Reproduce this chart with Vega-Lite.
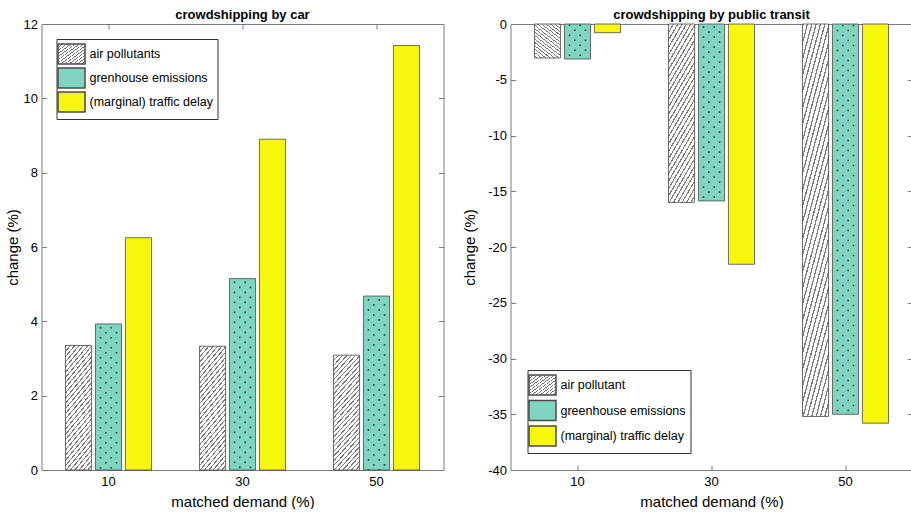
{
  "$schema": "https://vega.github.io/schema/vega-lite/v6.json",
  "background": "white",
  "padding": {"left": 4.5, "top": 9, "right": 0, "bottom": 0},
  "params": [
    {"name": "hatch", "value": {"gradient": "linear", "x1": 0, "y1": 0, "x2": 0.294, "y2": 1.176, "stops": [
{"offset":0,"color":"#7d7d7d"},{"offset":0.01,"color":"#7d7d7d"},{"offset":0.01,"color":"#fff"},{"offset":0.0333,"color":"#fff"},
{"offset":0.0333,"color":"#7d7d7d"},{"offset":0.0433,"color":"#7d7d7d"},{"offset":0.0433,"color":"#fff"},{"offset":0.0667,"color":"#fff"},
{"offset":0.0667,"color":"#7d7d7d"},{"offset":0.0767,"color":"#7d7d7d"},{"offset":0.0767,"color":"#fff"},{"offset":0.1,"color":"#fff"},
{"offset":0.1,"color":"#7d7d7d"},{"offset":0.11,"color":"#7d7d7d"},{"offset":0.11,"color":"#fff"},{"offset":0.1333,"color":"#fff"},
{"offset":0.1333,"color":"#7d7d7d"},{"offset":0.1433,"color":"#7d7d7d"},{"offset":0.1433,"color":"#fff"},{"offset":0.1667,"color":"#fff"},
{"offset":0.1667,"color":"#7d7d7d"},{"offset":0.1767,"color":"#7d7d7d"},{"offset":0.1767,"color":"#fff"},{"offset":0.2,"color":"#fff"},
{"offset":0.2,"color":"#7d7d7d"},{"offset":0.21,"color":"#7d7d7d"},{"offset":0.21,"color":"#fff"},{"offset":0.2333,"color":"#fff"},
{"offset":0.2333,"color":"#7d7d7d"},{"offset":0.2433,"color":"#7d7d7d"},{"offset":0.2433,"color":"#fff"},{"offset":0.2667,"color":"#fff"},
{"offset":0.2667,"color":"#7d7d7d"},{"offset":0.2767,"color":"#7d7d7d"},{"offset":0.2767,"color":"#fff"},{"offset":0.3,"color":"#fff"},
{"offset":0.3,"color":"#7d7d7d"},{"offset":0.31,"color":"#7d7d7d"},{"offset":0.31,"color":"#fff"},{"offset":0.3333,"color":"#fff"},
{"offset":0.3333,"color":"#7d7d7d"},{"offset":0.3433,"color":"#7d7d7d"},{"offset":0.3433,"color":"#fff"},{"offset":0.3667,"color":"#fff"},
{"offset":0.3667,"color":"#7d7d7d"},{"offset":0.3767,"color":"#7d7d7d"},{"offset":0.3767,"color":"#fff"},{"offset":0.4,"color":"#fff"},
{"offset":0.4,"color":"#7d7d7d"},{"offset":0.41,"color":"#7d7d7d"},{"offset":0.41,"color":"#fff"},{"offset":0.4333,"color":"#fff"},
{"offset":0.4333,"color":"#7d7d7d"},{"offset":0.4433,"color":"#7d7d7d"},{"offset":0.4433,"color":"#fff"},{"offset":0.4667,"color":"#fff"},
{"offset":0.4667,"color":"#7d7d7d"},{"offset":0.4767,"color":"#7d7d7d"},{"offset":0.4767,"color":"#fff"},{"offset":0.5,"color":"#fff"},
{"offset":0.5,"color":"#7d7d7d"},{"offset":0.51,"color":"#7d7d7d"},{"offset":0.51,"color":"#fff"},{"offset":0.5333,"color":"#fff"},
{"offset":0.5333,"color":"#7d7d7d"},{"offset":0.5433,"color":"#7d7d7d"},{"offset":0.5433,"color":"#fff"},{"offset":0.5667,"color":"#fff"},
{"offset":0.5667,"color":"#7d7d7d"},{"offset":0.5767,"color":"#7d7d7d"},{"offset":0.5767,"color":"#fff"},{"offset":0.6,"color":"#fff"},
{"offset":0.6,"color":"#7d7d7d"},{"offset":0.61,"color":"#7d7d7d"},{"offset":0.61,"color":"#fff"},{"offset":0.6333,"color":"#fff"},
{"offset":0.6333,"color":"#7d7d7d"},{"offset":0.6433,"color":"#7d7d7d"},{"offset":0.6433,"color":"#fff"},{"offset":0.6667,"color":"#fff"},
{"offset":0.6667,"color":"#7d7d7d"},{"offset":0.6767,"color":"#7d7d7d"},{"offset":0.6767,"color":"#fff"},{"offset":0.7,"color":"#fff"},
{"offset":0.7,"color":"#7d7d7d"},{"offset":0.71,"color":"#7d7d7d"},{"offset":0.71,"color":"#fff"},{"offset":0.7333,"color":"#fff"},
{"offset":0.7333,"color":"#7d7d7d"},{"offset":0.7433,"color":"#7d7d7d"},{"offset":0.7433,"color":"#fff"},{"offset":0.7667,"color":"#fff"},
{"offset":0.7667,"color":"#7d7d7d"},{"offset":0.7767,"color":"#7d7d7d"},{"offset":0.7767,"color":"#fff"},{"offset":0.8,"color":"#fff"},
{"offset":0.8,"color":"#7d7d7d"},{"offset":0.81,"color":"#7d7d7d"},{"offset":0.81,"color":"#fff"},{"offset":0.8333,"color":"#fff"},
{"offset":0.8333,"color":"#7d7d7d"},{"offset":0.8433,"color":"#7d7d7d"},{"offset":0.8433,"color":"#fff"},{"offset":0.8667,"color":"#fff"},
{"offset":0.8667,"color":"#7d7d7d"},{"offset":0.8767,"color":"#7d7d7d"},{"offset":0.8767,"color":"#fff"},{"offset":0.9,"color":"#fff"},
{"offset":0.9,"color":"#7d7d7d"},{"offset":0.91,"color":"#7d7d7d"},{"offset":0.91,"color":"#fff"},{"offset":0.9333,"color":"#fff"},
{"offset":0.9333,"color":"#7d7d7d"},{"offset":0.9433,"color":"#7d7d7d"},{"offset":0.9433,"color":"#fff"},{"offset":0.9667,"color":"#fff"},
{"offset":0.9667,"color":"#7d7d7d"},{"offset":0.9767,"color":"#7d7d7d"},{"offset":0.9767,"color":"#fff"},{"offset":1,"color":"#fff"}]}},
    {"name": "hatchL", "value": {"gradient": "linear", "x1": 0, "y1": 0, "x2": 1, "y2": 1, "stops": [
{"offset":0,"color":"#6f6f6f"},{"offset":0.022,"color":"#6f6f6f"},{"offset":0.022,"color":"#fff"},{"offset":0.0769,"color":"#fff"},
{"offset":0.0769,"color":"#6f6f6f"},{"offset":0.0989,"color":"#6f6f6f"},{"offset":0.0989,"color":"#fff"},{"offset":0.1538,"color":"#fff"},
{"offset":0.1538,"color":"#6f6f6f"},{"offset":0.1758,"color":"#6f6f6f"},{"offset":0.1758,"color":"#fff"},{"offset":0.2308,"color":"#fff"},
{"offset":0.2308,"color":"#6f6f6f"},{"offset":0.2528,"color":"#6f6f6f"},{"offset":0.2528,"color":"#fff"},{"offset":0.3077,"color":"#fff"},
{"offset":0.3077,"color":"#6f6f6f"},{"offset":0.3297,"color":"#6f6f6f"},{"offset":0.3297,"color":"#fff"},{"offset":0.3846,"color":"#fff"},
{"offset":0.3846,"color":"#6f6f6f"},{"offset":0.4066,"color":"#6f6f6f"},{"offset":0.4066,"color":"#fff"},{"offset":0.4615,"color":"#fff"},
{"offset":0.4615,"color":"#6f6f6f"},{"offset":0.4835,"color":"#6f6f6f"},{"offset":0.4835,"color":"#fff"},{"offset":0.5385,"color":"#fff"},
{"offset":0.5385,"color":"#6f6f6f"},{"offset":0.5605,"color":"#6f6f6f"},{"offset":0.5605,"color":"#fff"},{"offset":0.6154,"color":"#fff"},
{"offset":0.6154,"color":"#6f6f6f"},{"offset":0.6374,"color":"#6f6f6f"},{"offset":0.6374,"color":"#fff"},{"offset":0.6923,"color":"#fff"},
{"offset":0.6923,"color":"#6f6f6f"},{"offset":0.7143,"color":"#6f6f6f"},{"offset":0.7143,"color":"#fff"},{"offset":0.7692,"color":"#fff"},
{"offset":0.7692,"color":"#6f6f6f"},{"offset":0.7912,"color":"#6f6f6f"},{"offset":0.7912,"color":"#fff"},{"offset":0.8462,"color":"#fff"},
{"offset":0.8462,"color":"#6f6f6f"},{"offset":0.8682,"color":"#6f6f6f"},{"offset":0.8682,"color":"#fff"},{"offset":0.9231,"color":"#fff"},
{"offset":0.9231,"color":"#6f6f6f"},{"offset":0.9451,"color":"#6f6f6f"},{"offset":0.9451,"color":"#fff"},{"offset":1,"color":"#fff"}]}}
  ],
  "config": {
    "font": "Liberation Sans",
    "view": {"stroke": null},
    "axis": {"domainColor": "#7a7a7a", "tickColor": "#7a7a7a", "tickSize": -5, "labelPadding": 9, "labelFontSize": 13, "labelColor": "black", "labelFont": "Liberation Sans", "titleFontSize": 15, "titleFontWeight": "normal", "titleColor": "black", "titleFont": "Liberation Sans", "grid": false, "labelExpr": "'' + datum.value"},
    "axisX": {"labelPadding": 10, "titlePadding": 6},
    "axisY": {"titlePadding": 3},
    "title": {"fontSize": 13, "fontWeight": "bold", "font": "Liberation Sans", "offset": -4, "anchor": "middle", "color": "black"},
    "legend": {"symbolType": "M-1.35,-1H1.35V1H-1.35Z", "symbolSize": 400, "labelFontSize": 12.5, "labelFont": "Liberation Sans", "labelColor": "black", "padding": 4, "rowPadding": -3, "strokeColor": "#333333", "fillColor": "white", "labelOffset": 7, "offset": 15}
  },
  "spacing": 18,
  "resolve": {"scale": {"xOffset": "independent", "fill": "independent"}, "legend": {"fill": "independent"}},
  "hconcat": [
    {
      "width": 402,
      "height": 446,
      "title": "crowdshipping by car",
      "data": {"values": [
        {"demand": "10", "series": "air pollutants", "value": 3.35},
        {"demand": "10", "series": "grenhouse emissions", "value": 3.93},
        {"demand": "10", "series": "(marginal) traffic delay", "value": 6.25},
        {"demand": "30", "series": "air pollutants", "value": 3.33},
        {"demand": "30", "series": "grenhouse emissions", "value": 5.15},
        {"demand": "30", "series": "(marginal) traffic delay", "value": 8.9},
        {"demand": "50", "series": "air pollutants", "value": 3.09},
        {"demand": "50", "series": "grenhouse emissions", "value": 4.68},
        {"demand": "50", "series": "(marginal) traffic delay", "value": 11.42}
      ]},
      "layer": [
        {
          "mark": {"type": "bar", "stroke": "#4a4a4a", "strokeWidth": 0.8},
          "encoding": {
            "x": {"field": "demand", "type": "ordinal", "scale": {"paddingInner": 0, "paddingOuter": 0}, "axis": {"title": "matched demand (%)", "labelAngle": 0, "orient": "bottom"}},
            "xOffset": {"field": "series", "type": "nominal", "scale": {"domain": ["air pollutants", "grenhouse emissions", "(marginal) traffic delay"], "paddingInner": 0.13, "paddingOuter": 0.8}},
            "y": {"field": "value", "type": "quantitative", "scale": {"domain": [0, 12], "nice": false}, "axis": {"title": "change (%)", "values": [0, 2, 4, 6, 8, 10, 12], "orient": "left"}},
            "fill": {
              "field": "series", "type": "nominal",
              "scale": {"domain": ["air pollutants", "grenhouse emissions", "(marginal) traffic delay"], "range": [{"expr": "hatchL"}, "#80d5c0", "#f7f70c"]},
              "condition": {"test": "datum.series === 'air pollutants'", "value": {"expr": "hatch"}},
              "legend": {"title": null, "orient": "top-left", "encode": {"symbols": {"update": {"stroke": {"value": "#333333"}, "strokeWidth": {"value": 1}}}}}
            }
          }
        },
        {"transform": [{"filter": "datum.series === 'grenhouse emissions'"}], "mark": {"type": "rule", "color": "#1f433c", "strokeWidth": 1.6, "strokeDash": [1.6, 8.4], "strokeDashOffset": 7},
         "encoding": {"x": {"field": "demand", "type": "ordinal", "bandPosition": 0.4403, "axis": null}, "y": {"field": "value", "type": "quantitative", "axis": null}, "y2": {"datum": 0}}},
        {"transform": [{"filter": "datum.series === 'grenhouse emissions'"}], "mark": {"type": "rule", "color": "#1f433c", "strokeWidth": 1.6, "strokeDash": [1.6, 8.4], "strokeDashOffset": 2},
         "encoding": {"x": {"field": "demand", "type": "ordinal", "bandPosition": 0.4799, "axis": null}, "y": {"field": "value", "type": "quantitative", "axis": null}, "y2": {"datum": 0}}},
        {"transform": [{"filter": "datum.series === 'grenhouse emissions'"}], "mark": {"type": "rule", "color": "#1f433c", "strokeWidth": 1.6, "strokeDash": [1.6, 8.4], "strokeDashOffset": 7},
         "encoding": {"x": {"field": "demand", "type": "ordinal", "bandPosition": 0.5201, "axis": null}, "y": {"field": "value", "type": "quantitative", "axis": null}, "y2": {"datum": 0}}},
        {"transform": [{"filter": "datum.series === 'grenhouse emissions'"}], "mark": {"type": "rule", "color": "#1f433c", "strokeWidth": 1.6, "strokeDash": [1.6, 8.4], "strokeDashOffset": 2},
         "encoding": {"x": {"field": "demand", "type": "ordinal", "bandPosition": 0.5597, "axis": null}, "y": {"field": "value", "type": "quantitative", "axis": null}, "y2": {"datum": 0}}},
        {
          "mark": {"type": "point", "opacity": 0},
          "encoding": {
            "x": {"field": "demand", "type": "ordinal", "axis": {"orient": "top", "labels": false, "title": null}},
            "y": {"field": "value", "type": "quantitative", "axis": {"orient": "right", "labels": false, "title": null, "values": [0, 2, 4, 6, 8, 10, 12]}}
          }
        }
      ],
      "resolve": {"axis": {"x": "independent", "y": "independent"}}
    },
    {
      "width": 402,
      "height": 446,
      "title": "crowdshipping by public transit",
      "data": {"values": [
        {"demand": "10", "series": "air pollutant", "value": -3.05},
        {"demand": "10", "series": "greenhouse emissions", "value": -3.14},
        {"demand": "10", "series": "(marginal) traffic delay", "value": -0.78},
        {"demand": "30", "series": "air pollutant", "value": -16.0},
        {"demand": "30", "series": "greenhouse emissions", "value": -15.87},
        {"demand": "30", "series": "(marginal) traffic delay", "value": -21.55},
        {"demand": "50", "series": "air pollutant", "value": -35.2},
        {"demand": "50", "series": "greenhouse emissions", "value": -35.0},
        {"demand": "50", "series": "(marginal) traffic delay", "value": -35.8}
      ]},
      "layer": [
        {
          "mark": {"type": "bar", "stroke": "#4a4a4a", "strokeWidth": 0.8},
          "encoding": {
            "x": {"field": "demand", "type": "ordinal", "scale": {"paddingInner": 0, "paddingOuter": 0}, "axis": {"title": "matched demand (%)", "labelAngle": 0, "orient": "bottom"}},
            "xOffset": {"field": "series", "type": "nominal", "scale": {"domain": ["air pollutant", "greenhouse emissions", "(marginal) traffic delay"], "paddingInner": 0.13, "paddingOuter": 0.8}},
            "y": {"field": "value", "type": "quantitative", "scale": {"domain": [-40, 0], "nice": false}, "axis": {"title": "change (%)", "titlePadding": 10, "values": [-40, -35, -30, -25, -20, -15, -10, -5, 0], "orient": "left"}},
            "fill": {
              "field": "series", "type": "nominal",
              "scale": {"domain": ["air pollutant", "greenhouse emissions", "(marginal) traffic delay"], "range": [{"expr": "hatchL"}, "#80d5c0", "#f7f70c"]},
              "condition": {"test": "datum.series === 'air pollutant'", "value": {"expr": "hatch"}},
              "legend": {"title": null, "orient": "bottom-left", "rowPadding": -0.5, "offset": 17, "encode": {"symbols": {"update": {"stroke": {"value": "#333333"}, "strokeWidth": {"value": 1}}}}}
            }
          }
        },
        {"transform": [{"filter": "datum.series === 'greenhouse emissions'"}], "mark": {"type": "rule", "color": "#1f433c", "strokeWidth": 1.6, "strokeDash": [1.6, 8.4], "strokeDashOffset": 7},
         "encoding": {"x": {"field": "demand", "type": "ordinal", "bandPosition": 0.4403, "axis": null}, "y": {"field": "value", "type": "quantitative", "axis": null}, "y2": {"datum": 0}}},
        {"transform": [{"filter": "datum.series === 'greenhouse emissions'"}], "mark": {"type": "rule", "color": "#1f433c", "strokeWidth": 1.6, "strokeDash": [1.6, 8.4], "strokeDashOffset": 2},
         "encoding": {"x": {"field": "demand", "type": "ordinal", "bandPosition": 0.4799, "axis": null}, "y": {"field": "value", "type": "quantitative", "axis": null}, "y2": {"datum": 0}}},
        {"transform": [{"filter": "datum.series === 'greenhouse emissions'"}], "mark": {"type": "rule", "color": "#1f433c", "strokeWidth": 1.6, "strokeDash": [1.6, 8.4], "strokeDashOffset": 7},
         "encoding": {"x": {"field": "demand", "type": "ordinal", "bandPosition": 0.5201, "axis": null}, "y": {"field": "value", "type": "quantitative", "axis": null}, "y2": {"datum": 0}}},
        {"transform": [{"filter": "datum.series === 'greenhouse emissions'"}], "mark": {"type": "rule", "color": "#1f433c", "strokeWidth": 1.6, "strokeDash": [1.6, 8.4], "strokeDashOffset": 2},
         "encoding": {"x": {"field": "demand", "type": "ordinal", "bandPosition": 0.5597, "axis": null}, "y": {"field": "value", "type": "quantitative", "axis": null}, "y2": {"datum": 0}}},
        {
          "mark": {"type": "point", "opacity": 0},
          "encoding": {
            "x": {"field": "demand", "type": "ordinal", "axis": {"orient": "top", "labels": false, "title": null}},
            "y": {"field": "value", "type": "quantitative", "axis": {"orient": "right", "labels": false, "title": null, "values": [-40, -35, -30, -25, -20, -15, -10, -5, 0]}}
          }
        }
      ],
      "resolve": {"axis": {"x": "independent", "y": "independent"}}
    }
  ]
}
